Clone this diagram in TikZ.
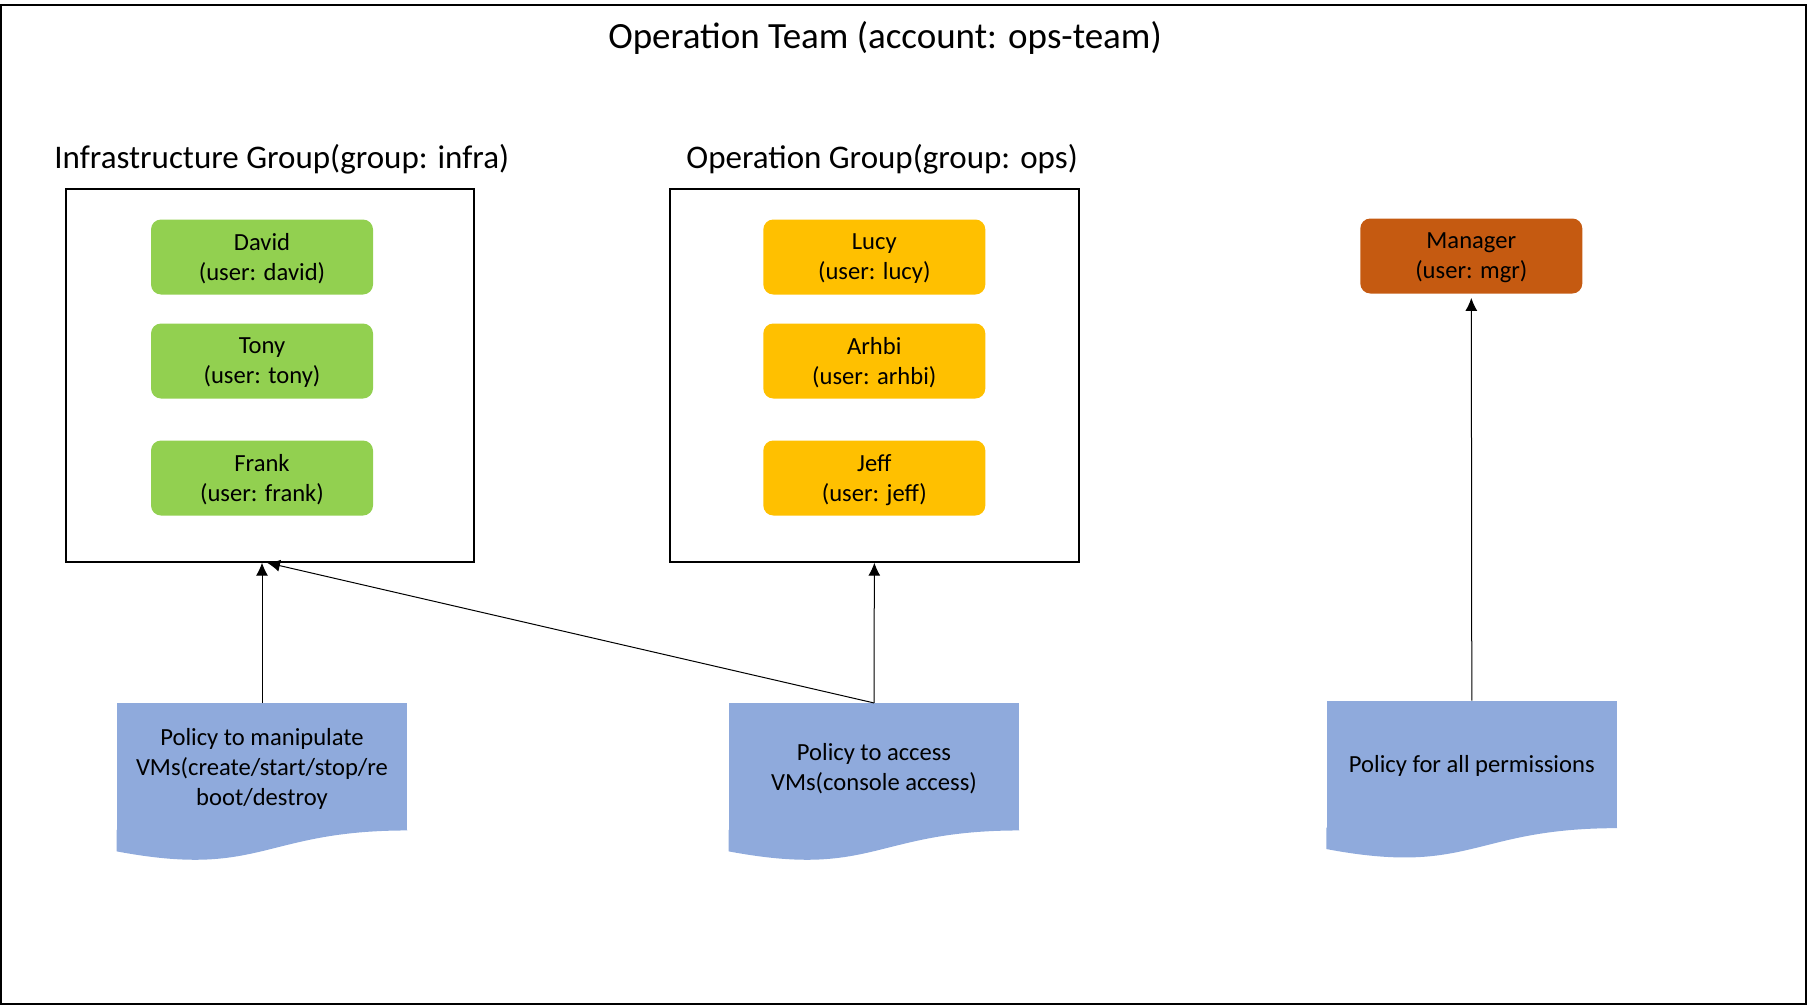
\documentclass[tikz,border=0pt]{standalone}
\usepackage{fontspec}
\setmainfont{Carlito}
\usetikzlibrary{arrows.meta, positioning, calc}
\definecolor{mGreen}{HTML}{92D050}
\definecolor{mGold}{HTML}{FFC000}
\definecolor{mRust}{HTML}{C55A11}
\definecolor{mPolicyBlue}{HTML}{8FAADC}

\begin{document}
\begin{tikzpicture}[x=0.5pt, y=-0.5pt,
    user/.style={rectangle, rounded corners=5pt, minimum width=111pt, minimum height=37.5pt,
      inner sep=0pt, text depth=0pt, align=center, font=\fontsize{12.3}{15}\selectfont},
    group/.style={draw, line width=1pt, minimum width=204.3pt, minimum height=186.35pt, inner sep=0pt},
    policy/.style={fill=mPolicyBlue, minimum width=145pt, minimum height=63.35pt, inner sep=0pt,
      text depth=-2pt, align=center, font=\fontsize{12.3}{15}\selectfont},
    link/.style={line width=0.5pt, -{Latex[length=6.5pt, width=6pt]}}]

    \useasboundingbox (0,0) rectangle (1808,1006);
    \draw[line width=1pt] (1,5) rectangle (1806,1004);

    \node[inner sep=0pt, font=\fontsize{18.5}{22}\selectfont] (title) at (885,37.5) {Operation Team (account: ops-team)};
    \node[anchor=west, inner sep=0pt, font=\fontsize{16.5}{20}\selectfont] (infralbl) at (54,159.5) {Infrastructure Group(group: infra)};
    \node[anchor=west, inner sep=0pt, font=\fontsize{16.5}{20}\selectfont] (opslbl) at (686,159.5) {Operation Group(group: ops)};

    \node[group] (infra) at (270,375.35) {};
    \node[group] (ops) at (874.35,375.35) {};

    \foreach \nm/\usr/\y in {David/david/257, Tony/tony/361, Frank/frank/478}
      \node[user, fill=mGreen] (u-\usr) at (262,\y) {\nm\\(user: \usr)};
    \foreach \nm/\usr/\y in {Lucy/lucy/257, Arhbi/arhbi/361, Jeff/jeff/478}
      \node[user, fill=mGold] (u-\usr) at (874.3,\y) {\nm\\(user: \usr)};
    \node[user, fill=mRust] (u-mgr) at (1471.3,256) {Manager\\(user: mgr)};

    \node[policy] (pol1) at (262,766.7) {Policy to manipulate\\VMs(create/start/stop/re\\boot/destroy};
    \node[policy] (pol2) at (874,766.7) {Policy to access\\VMs(console access)};
    \node[policy] (pol3) at (1471.8,764.4) {Policy for all permissions};
    \foreach \p in {pol1, pol2, pol3}
      \fill[mPolicyBlue] ($(\p.south east)+(0,-0.6)$) -- (\p.south east)
        .. controls (\p.south) and ($(\p.south)+(0,48.3)$) .. ($(\p.south west)+(0,20.9)$)
        -- ($(\p.south west)+(0,-0.6)$) -- cycle;

    \draw[link] (pol1.north) -- (pol1.north |- infra.south);
    \draw[link] (pol2.north) -- ($(infra.south)+(-3,0)$);
    \draw[link] (pol2.north) -- (ops.south);
    \draw[link, shorten >=2pt] (pol3.north) -- (u-mgr.south);
  \end{tikzpicture}
\end{document}
